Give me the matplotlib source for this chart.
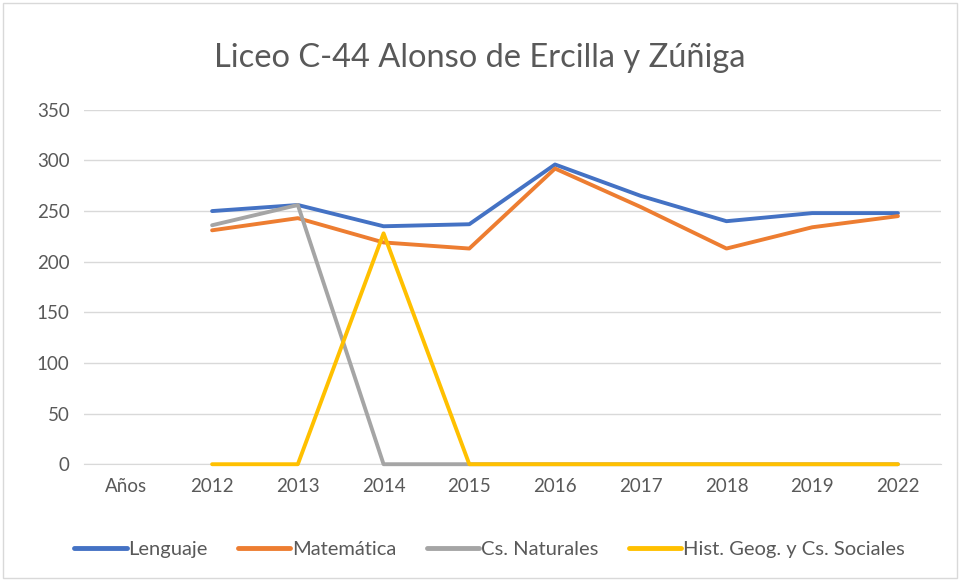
import matplotlib
matplotlib.use("Agg")
import matplotlib.pyplot as plt
from matplotlib.patches import Rectangle
import numpy as np

plt.rcParams['font.family'] = ['Lato', 'DejaVu Sans']

categories = ["Años", "2012", "2013", "2014", "2015", "2016", "2017", "2018", "2019", "2022"]
lenguaje = [None, 250, 256, 235, 237, 296, 265, 240, 248, 248]
matematica = [None, 231, 243, 219, 213, 292, 254, 213, 234, 245]
naturales = [None, 236, 256, 0, 0, 0, 0, 0, 0, 0]
historia = [None, 0, 0, 228, 0, 0, 0, 0, 0, 0]

series = [
    ("Lenguaje", lenguaje, "#4472C4"),
    ("Matemática", matematica, "#ED7D31"),
    ("Cs. Naturales", naturales, "#A5A5A5"),
    ("Hist. Geog. y Cs. Sociales", historia, "#FFC000"),
]

fig = plt.figure(figsize=(9.6, 5.81), dpi=100)
ax = fig.add_axes([0.087, 0.201, 0.893, 0.61])

x = np.arange(len(categories))
for i, (name, vals, col) in enumerate(series):
    y = np.array([np.nan if v is None else v for v in vals], dtype=float)
    ax.plot(x, y, color=col, lw=2.8, label=name, solid_capstyle='round',
            solid_joinstyle='round', clip_on=False, zorder=3 + i)

ax.set_xlim(-0.5, len(categories) - 0.5)
ax.set_ylim(0, 350)
ax.set_yticks(np.arange(0, 351, 50))
ax.set_xticks(x)
ax.set_xticklabels(categories)
ax.grid(axis='y', color='#D9D9D9', lw=1)
ax.set_axisbelow(True)
for s in ['top', 'right', 'left']:
    ax.spines[s].set_visible(False)
ax.spines['bottom'].set_color('#D9D9D9')
ax.spines['bottom'].set_zorder(1)
ax.tick_params(axis='both', length=0, labelsize=13.5, colors='#595959', pad=10)

fig.text(0.5, 0.9, "Liceo C-44 Alonso de Ercilla y Zúñiga", ha='center', va='center',
         fontsize=23.5, color='#595959')

leg = fig.legend(loc='center', bbox_to_anchor=(0.51, 0.055), ncol=4, frameon=False,
                 fontsize=14.5, handlelength=2.6, handletextpad=0.1, columnspacing=1.5)
for t in leg.get_texts():
    t.set_color('#595959')
for h in leg.get_lines():
    h.set_linewidth(3.5)

fig.patches.append(Rectangle((0.003, 0.005), 0.994, 0.99, transform=fig.transFigure,
                             fill=False, edgecolor='#D9D9D9', lw=1))

fig.savefig("out.png", dpi=100)
